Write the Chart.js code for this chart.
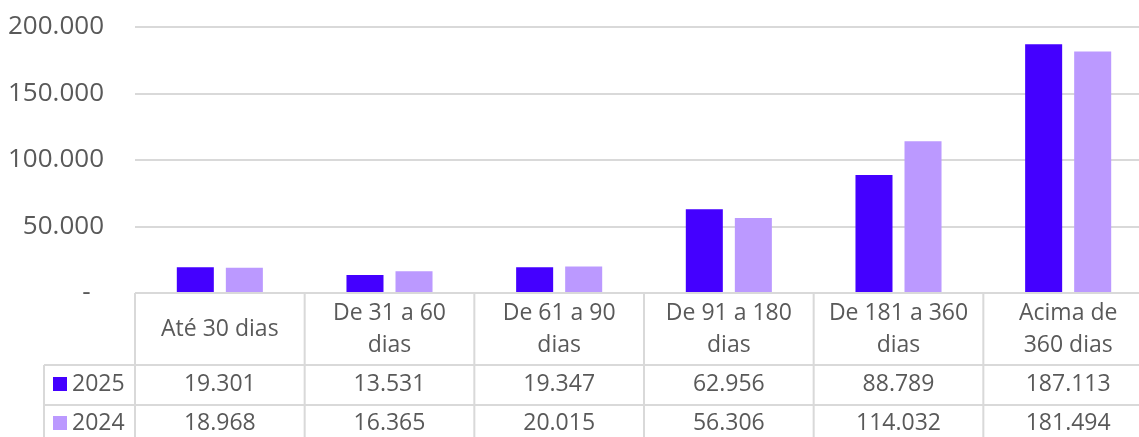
<!DOCTYPE html>
<html>
<head>
<meta charset="utf-8">
<script src="https://cdn.jsdelivr.net/npm/chart.js@4/dist/chart.umd.min.js"></script>
<style>
  html, body { margin: 0; padding: 0; background: #fff; overflow: hidden; }
  #wrap { width: 1153px; height: 437px; }
</style>
</head>
<body>
<div id="wrap"><canvas id="chart"></canvas></div>
<script>
// data
const categories = ['Até 30 dias', ['De 31 a 60', 'dias'], ['De 61 a 90', 'dias'], ['De 91 a 180', 'dias'], ['De 181 a 360', 'dias'], ['Acima de', '360 dias']];
const seriesNames = ['2025', '2024'];
const values2025 = [19301, 13531, 19347, 62956, 88789, 187113];
const values2024 = [18968, 16365, 20015, 56306, 114032, 181494];
const yTicks = [0, 50000, 100000, 150000, 200000];

const colors = ['#4400FF', '#BB99FF'];
const gridColor = '#d9d9d9';
const textColor = '#595959';
const fontFamily = '"Open Sans", sans-serif';

function fmt(v) {
  return v.toLocaleString('de-DE');
}

// draws the data table under the plot, aligned on the x scale
const tablePlugin = {
  id: 'dataTable',
  afterDraw(chart) {
    const ctx = chart.ctx;
    const x = chart.scales.x;
    const area = chart.chartArea;
    const n = categories.length;
    const catW = (x.right - x.left) / n;
    const top = area.bottom;
    const row1 = 365, row2 = 405, bottom = chart.height;
    const legendLeft = 44;

    ctx.save();
    ctx.strokeStyle = gridColor;
    ctx.lineWidth = 2;
    ctx.beginPath();
    ctx.moveTo(x.left, top); ctx.lineTo(chart.width, top);
    ctx.moveTo(legendLeft, row1); ctx.lineTo(chart.width, row1);
    ctx.moveTo(legendLeft, row2); ctx.lineTo(chart.width, row2);
    ctx.moveTo(legendLeft, row1); ctx.lineTo(legendLeft, bottom);
    for (let i = 0; i < n; i++) {
      const bx = x.getPixelForValue(i) - catW / 2;
      ctx.moveTo(bx, top); ctx.lineTo(bx, bottom);
    }
    ctx.stroke();

    ctx.fillStyle = textColor;
    ctx.font = '23px ' + fontFamily;
    ctx.textAlign = 'center';
    ctx.textBaseline = 'middle';
    const datasets = chart.data.datasets;
    for (let i = 0; i < n; i++) {
      const cx = x.getPixelForValue(i);
      const lab = categories[i];
      if (Array.isArray(lab)) {
        ctx.fillText(lab[0], cx, 313);
        ctx.fillText(lab[1], cx, 345);
      } else {
        ctx.fillText(lab, cx, 329);
      }
      ctx.fillText(fmt(datasets[0].data[i]), cx, 384);
      ctx.fillText(fmt(datasets[1].data[i]), cx, 423);
    }

    // series keys
    const rows = [384, 423];
    ctx.textAlign = 'left';
    datasets.forEach((ds, k) => {
      ctx.fillStyle = ds.backgroundColor;
      ctx.fillRect(53, rows[k] - 7, 14, 14);
      ctx.fillStyle = textColor;
      ctx.fillText(ds.label, 72, rows[k]);
    });
    ctx.restore();
  }
};

new Chart(document.getElementById('chart'), {
  type: 'bar',
  data: {
    labels: categories,
    datasets: [{
      label: seriesNames[0],
      data: values2025,
      backgroundColor: colors[0],
      categoryPercentage: 0.578,
      barPercentage: 0.755
    }, {
      label: seriesNames[1],
      data: values2024,
      backgroundColor: colors[1],
      categoryPercentage: 0.578,
      barPercentage: 0.755
    }]
  },
  options: {
    responsive: true,
    maintainAspectRatio: false,
    animation: false,
    layout: { padding: { top: 27, bottom: 144, left: 0, right: 0 } },
    plugins: {
      legend: { display: false },
      tooltip: { enabled: false }
    },
    scales: {
      x: {
        grid: { display: false, drawTicks: false },
        border: { display: false },
        ticks: { display: false }
      },
      y: {
        min: 0,
        max: 200000,
        afterBuildTicks(scale) {
          scale.ticks = yTicks.map(v => ({ value: v }));
        },
        afterFit(scale) {
          scale.width = 135;
          // tick padding is only meant horizontally here
          scale.paddingTop = 0;
          scale.paddingBottom = 0;
        },
        border: { display: false },
        grid: { color: gridColor, lineWidth: 2, drawTicks: false },
        ticks: {
          padding: 31,
          color: textColor,
          font: { family: fontFamily, size: 26 },
          callback: v => v === 0 ? '-  ' : fmt(v)
        }
      }
    }
  },
  plugins: [tablePlugin]
});
</script>
</body>
</html>
